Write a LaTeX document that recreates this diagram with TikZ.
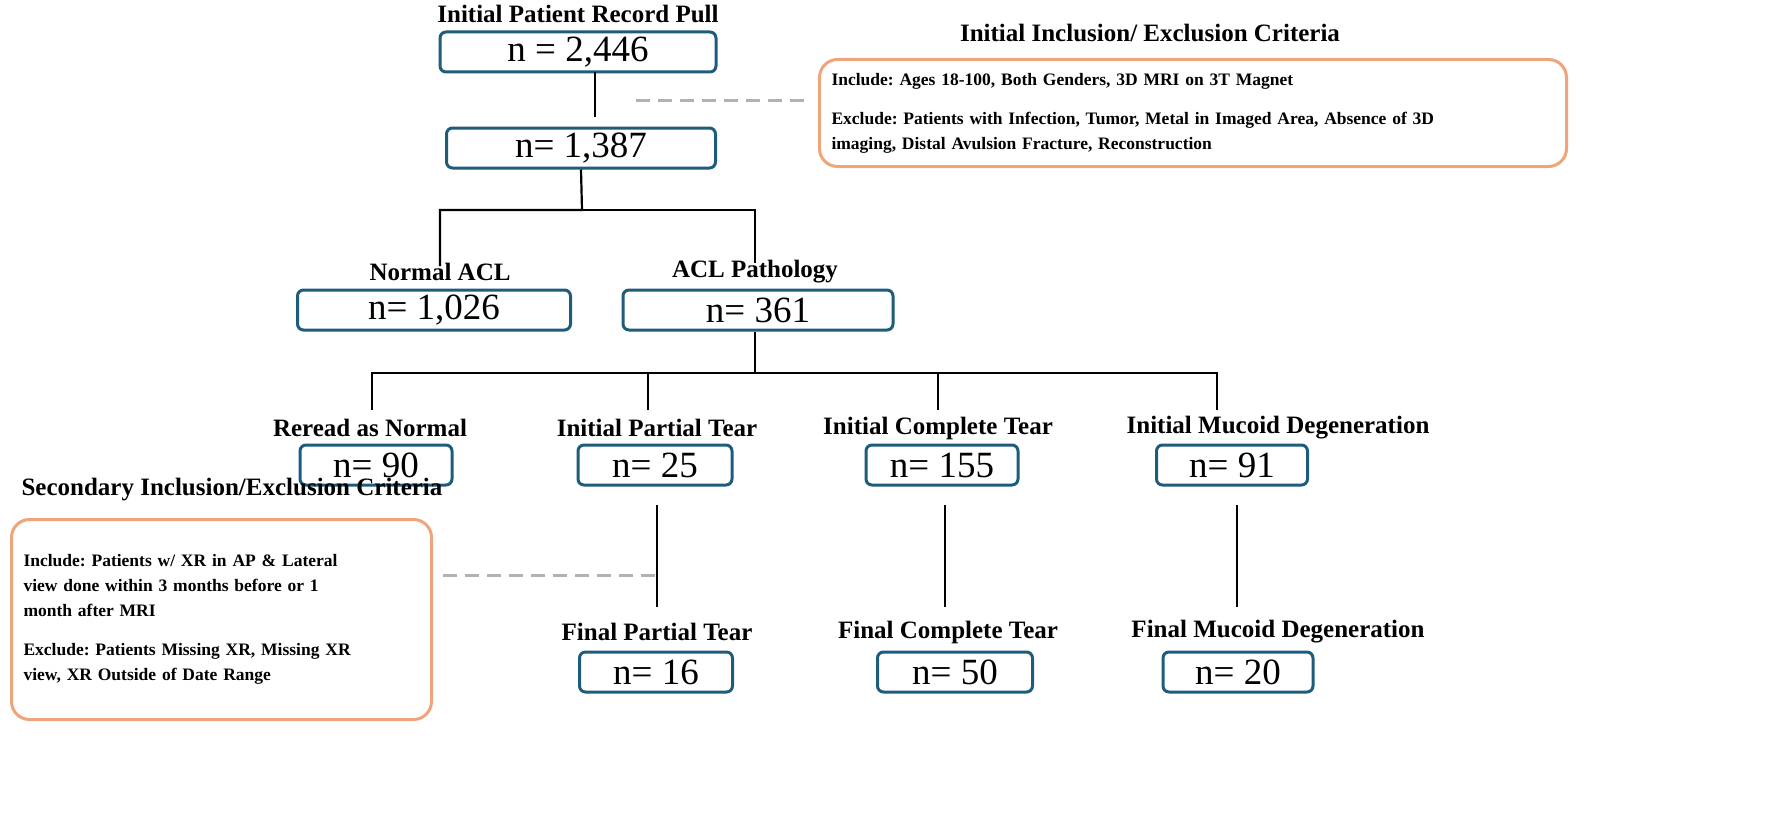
\documentclass[tikz,border=0pt]{standalone}
\usepackage{fontspec}
\setmainfont{Liberation Serif}
\usetikzlibrary{positioning}
\definecolor{boxblue}{HTML}{1E5C7C}
\definecolor{critorange}{HTML}{F0A47A}
\frenchspacing
\begin{document}
\begin{tikzpicture}[x=1pt,y=-1pt,
  count/.style={draw=boxblue,line width=3pt,rounded corners=6pt,minimum height=40pt,inner sep=0pt,font=\fontsize{37}{37}\selectfont},
  head/.style={font=\fontsize{25}{25}\selectfont\bfseries,inner sep=1pt},
  crit/.style={draw=critorange,line width=3pt,rounded corners=18pt,align=left,anchor=north west,inner sep=12pt,font=\fontsize{17.5}{25}\selectfont\bfseries},
  link/.style={line width=2.2pt},
  dashlink/.style={line width=3pt,gray!60,dash pattern=on 14pt off 8pt}]
\useasboundingbox (0,0) rectangle (1770,816);
% top of the chart
\node[head](tpull) at (578,14){Initial Patient Record Pull};
\node[count,minimum width=276pt](bpull) at (578,52){n = 2,446};
\node[count,minimum width=269pt](bincl) at (581,148){n= 1,387};
\node[head](tcrit1) at (1150,33){Initial Inclusion/ Exclusion Criteria};
\node[crit,minimum width=747pt,minimum height=107pt,text width=723pt](crit1) at (818,58){Include: Ages 18-100, Both Genders, 3D MRI on 3T Magnet\\[14pt]Exclude: Patients with Infection, Tumor, Metal in Imaged Area, Absence of 3D\\imaging, Distal Avulsion Fracture, Reconstruction};
\coordinate (d1) at (636,100);
\coordinate (v1a) at (595,72);
\coordinate (v1b) at (595,117);
\coordinate (j1) at (582,210);
\coordinate (j2) at (755,373);
% first split
\node[head](tnormal) at (440,272){Normal ACL};
\node[head](tpath) at (755,272){ACL Pathology};
\node[count,minimum width=273pt](bnormal) at (434,310){n= 1,026};
\node[count,minimum width=270pt](bpath) at (758,310){n= 361};
% second split
\node[head](treread) at (370,428){Reread as Normal};
\node[head](tpart) at (657,428){Initial Partial Tear};
\node[head](tcomp) at (938,428){Initial Complete Tear};
\node[head](tmuc) at (1278,428){Initial Mucoid Degeneration};
\node[count,minimum width=152pt](breread) at (376,465){n= 90};
\node[count,minimum width=154pt](bpart) at (655,465){n= 25};
\node[count,minimum width=152pt](bcomp) at (942,465){n= 155};
\node[count,minimum width=151pt](bmuc) at (1232,465){n= 91};
\coordinate (h1) at (372,410);
\coordinate (h2) at (648,410);
\coordinate (h3) at (938,410);
\coordinate (h4) at (1217,410);
% final groups
\node[head](tfpart) at (657,632){Final Partial Tear};
\node[head](tfcomp) at (948,632){Final Complete Tear};
\node[head](tfmuc) at (1278,632){Final Mucoid Degeneration};
\node[count,minimum width=153pt](bfpart) at (656,672){n= 16};
\node[count,minimum width=155pt](bfcomp) at (955,672){n= 50};
\node[count,minimum width=150pt](bfmuc) at (1238,672){n= 20};
\coordinate (f1a) at (657,505);
\coordinate (f1b) at (657,607);
\coordinate (f2a) at (945,505);
\coordinate (f2b) at (945,607);
\coordinate (f3a) at (1237,505);
\coordinate (f3b) at (1237,607);
\node[head](tcrit2) at (232,490){Secondary Inclusion/Exclusion Criteria};
\node[crit,minimum width=420pt,minimum height=200pt,text width=396pt](crit2) at (10,518){Include: Patients w/ XR in AP \& Lateral\\view done within 3 months before or 1\\month after MRI\\[14pt]Exclude: Patients Missing XR, Missing XR\\view, XR Outside of Date Range};
\coordinate (d2) at (655,575);
\coordinate (d2e) at (443,575);
% connectors
\draw[link] (v1a) -- (v1b);
\draw[link] (bincl.south) -- (j1) -| ([yshift=-4pt]tnormal.north);
\draw[link] (j1) -| ([yshift=-4pt]tpath.north);
\draw[link] (bpath.south -| j2) -- (j2) -| (h1);
\draw[link] (j2) -| (h2);
\draw[link] (j2) -| (h3);
\draw[link] (j2) -| (h4);
\draw[link] (f1a) -- (f1b);
\draw[link] (f2a) -- (f2b);
\draw[link] (f3a) -- (f3b);
\draw[dashlink] (d1) -- ([xshift=-10pt]d1 -| crit1.west);
\draw[dashlink] (d2) -- (d2e);
\end{tikzpicture}
\end{document}
